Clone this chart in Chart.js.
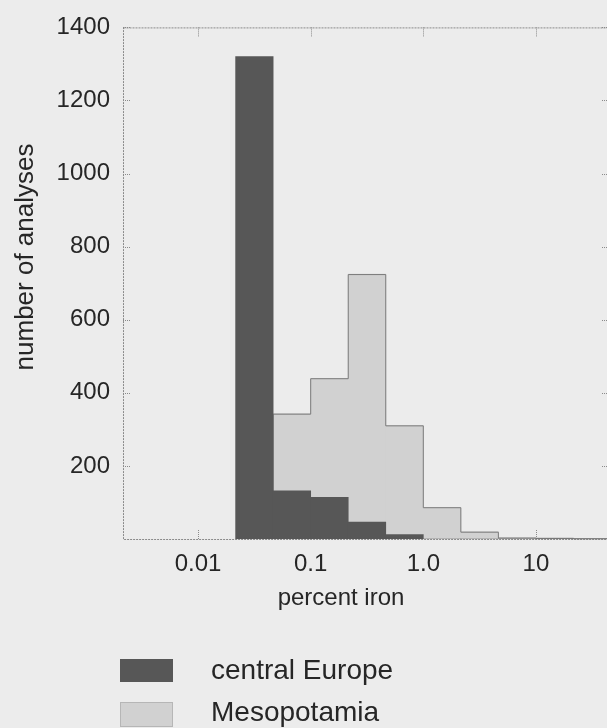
<!DOCTYPE html>
<html>
<head>
<meta charset="utf-8">
<script src="https://cdn.jsdelivr.net/npm/chart.js@4.4.1/dist/chart.umd.min.js"></script>
<style>
  html, body { margin: 0; padding: 0; overflow: hidden; background: #ececec; }
  canvas { display: block; }
</style>
</head>
<body>
<canvas id="chart" width="640" height="728"></canvas>
<script>
// Histogram bins in percent iron; each bin spans a third of a decade.
const binLower = [0.02154, 0.04642, 0.1, 0.2154, 0.4642, 1.0, 2.154, 4.642, 10, 21.54];
const binUpper = [0.04642, 0.1, 0.2154, 0.4642, 1.0, 2.154, 4.642, 10, 21.54, 46.42];

// Number of analyses in each bin.
const centralEurope = [1320, 132, 114, 46, 12, 0, 0, 0, 0, 0];
const mesopotamia   = [0, 343, 440, 725, 311, 87, 20, 4, 3, 2];

const seriesNames = ['central Europe', 'Mesopotamia'];

// Axis range and ticks.
const xRange = [0.002154, 46.42];
const xTickValues = [0.01, 0.1, 1, 10];
const xTickLabels = ['0.01', '0.1', '1.0', '10'];
const yTickValues = [200, 400, 600, 800, 1000, 1200, 1400];
const yRange = [0, 1400];

const FONT = "'Liberation Sans', Arial, Helvetica, sans-serif";
const INK = '#262626';
const DARK = '#575757';
const LIGHT = '#d1d1d1';
const EDGE = '#7a7a7a';

const lg = v => Math.log10(v);
const toPoints = vals => vals.map((v, i) => ({ x: (lg(binLower[i]) + lg(binUpper[i])) / 2, y: v }));

// Frame, inward tick marks, the stepped outline of the light histogram,
// axis titles and the legend.
const decorations = {
  id: 'decorations',
  beforeDatasetsDraw(chart) {
    const { ctx, chartArea: a, scales: { x, y } } = chart;
    ctx.save();
    ctx.strokeStyle = '#8a8a8a';
    ctx.lineWidth = 1;
    ctx.setLineDash([2, 1]);
    ctx.strokeRect(a.left + 0.5, a.top + 0.5, a.right - a.left, a.bottom - a.top);
    ctx.setLineDash([1, 1]);
    ctx.beginPath();
    xTickValues.forEach(v => {
      const px = Math.round(x.getPixelForValue(lg(v))) + 0.5;
      ctx.moveTo(px, a.bottom); ctx.lineTo(px, a.bottom - 9);
      ctx.moveTo(px, a.top); ctx.lineTo(px, a.top + 9);
    });
    yTickValues.forEach(v => {
      const py = Math.round(y.getPixelForValue(v)) + 0.5;
      ctx.moveTo(a.left, py); ctx.lineTo(a.left + 7, py);
      ctx.moveTo(a.right, py); ctx.lineTo(a.right - 9, py);
    });
    ctx.stroke();
    ctx.restore();
  },
  afterDatasetDraw(chart, args) {
    if (args.index !== 1) return;
    const ctx = chart.ctx;
    const els = args.meta.data;
    ctx.save();
    ctx.strokeStyle = EDGE;
    ctx.lineWidth = 1;
    ctx.beginPath();
    let open = false, lastRight = 0, base = 0;
    els.forEach((el, i) => {
      const p = el.getProps(['x', 'y', 'base', 'width'], true);
      const l = p.x - p.width / 2, r = p.x + p.width / 2;
      if (!mesopotamia[i]) {
        if (open) { ctx.lineTo(lastRight, base); open = false; }
        return;
      }
      base = p.base;
      if (!open) { ctx.moveTo(l, p.base); open = true; }
      ctx.lineTo(l, p.y + 0.5);
      ctx.lineTo(r, p.y + 0.5);
      lastRight = r;
    });
    if (open) ctx.lineTo(lastRight, base);
    ctx.stroke();
    ctx.restore();
  },
  afterDraw(chart) {
    const ctx = chart.ctx;
    ctx.save();
    ctx.fillStyle = INK;

    // y-axis title
    ctx.save();
    ctx.translate(33, 257);
    ctx.rotate(-Math.PI / 2);
    ctx.font = `26px ${FONT}`;
    ctx.textAlign = 'center';
    ctx.textBaseline = 'alphabetic';
    ctx.fillText('number of analyses', 0, 0);
    ctx.restore();

    // x-axis title
    ctx.font = `24px ${FONT}`;
    ctx.textAlign = 'center';
    ctx.textBaseline = 'alphabetic';
    ctx.fillText('percent iron', 341, 605);

    // legend
    const rows = [
      { name: seriesNames[0], fill: DARK, top: 659, h: 23, base: 679 },
      { name: seriesNames[1], fill: LIGHT, top: 702, h: 25, base: 721 }
    ];
    ctx.font = `28px ${FONT}`;
    ctx.textAlign = 'left';
    rows.forEach((r, i) => {
      ctx.fillStyle = r.fill;
      ctx.fillRect(120, r.top, 53, r.h);
      if (i === 1) {
        ctx.strokeStyle = '#9a9a9a';
        ctx.setLineDash([1, 1]);
        ctx.strokeRect(120.5, r.top + 0.5, 52, r.h - 1);
        ctx.setLineDash([]);
      }
      ctx.fillStyle = INK;
      ctx.fillText(r.name, 211, r.base);
    });
    ctx.restore();
  }
};

new Chart(document.getElementById('chart'), {
  type: 'bar',
  data: {
    datasets: [
      { label: seriesNames[0], data: toPoints(centralEurope), backgroundColor: DARK, borderWidth: 0 },
      { label: seriesNames[1], data: toPoints(mesopotamia), backgroundColor: LIGHT, borderWidth: 0 }
    ]
  },
  options: {
    responsive: false,
    animation: false,
    devicePixelRatio: 1,
    layout: { padding: { left: 0, top: 21, right: 29, bottom: 0 } },
    datasets: { bar: { grouped: false, barPercentage: 1, categoryPercentage: 1 } },
    plugins: { legend: { display: false }, tooltip: { enabled: false } },
    scales: {
      x: {
        type: 'linear',
        min: lg(xRange[0]),
        max: lg(xRange[1]),
        offset: false,
        grid: { display: false, drawTicks: false, offset: false },
        border: { display: false },
        afterBuildTicks: s => { s.ticks = xTickValues.map(v => ({ value: lg(v) })); },
        afterFit: s => { s.height = 189; },
        ticks: {
          font: { family: FONT, size: 24 },
          color: INK,
          padding: 11,
          maxRotation: 0,
          autoSkip: false,
          callback: (v, i) => xTickLabels[i]
        }
      },
      y: {
        min: yRange[0],
        max: yRange[1],
        grid: { display: false, drawTicks: false },
        border: { display: false },
        afterBuildTicks: s => { s.ticks = yTickValues.map(v => ({ value: v })); },
        afterFit: s => { s.width = 123; },
        ticks: {
          font: { family: FONT, size: 24 },
          color: INK,
          padding: 13,
          callback: v => String(v)
        }
      }
    }
  },
  plugins: [decorations]
});
</script>
</body>
</html>
